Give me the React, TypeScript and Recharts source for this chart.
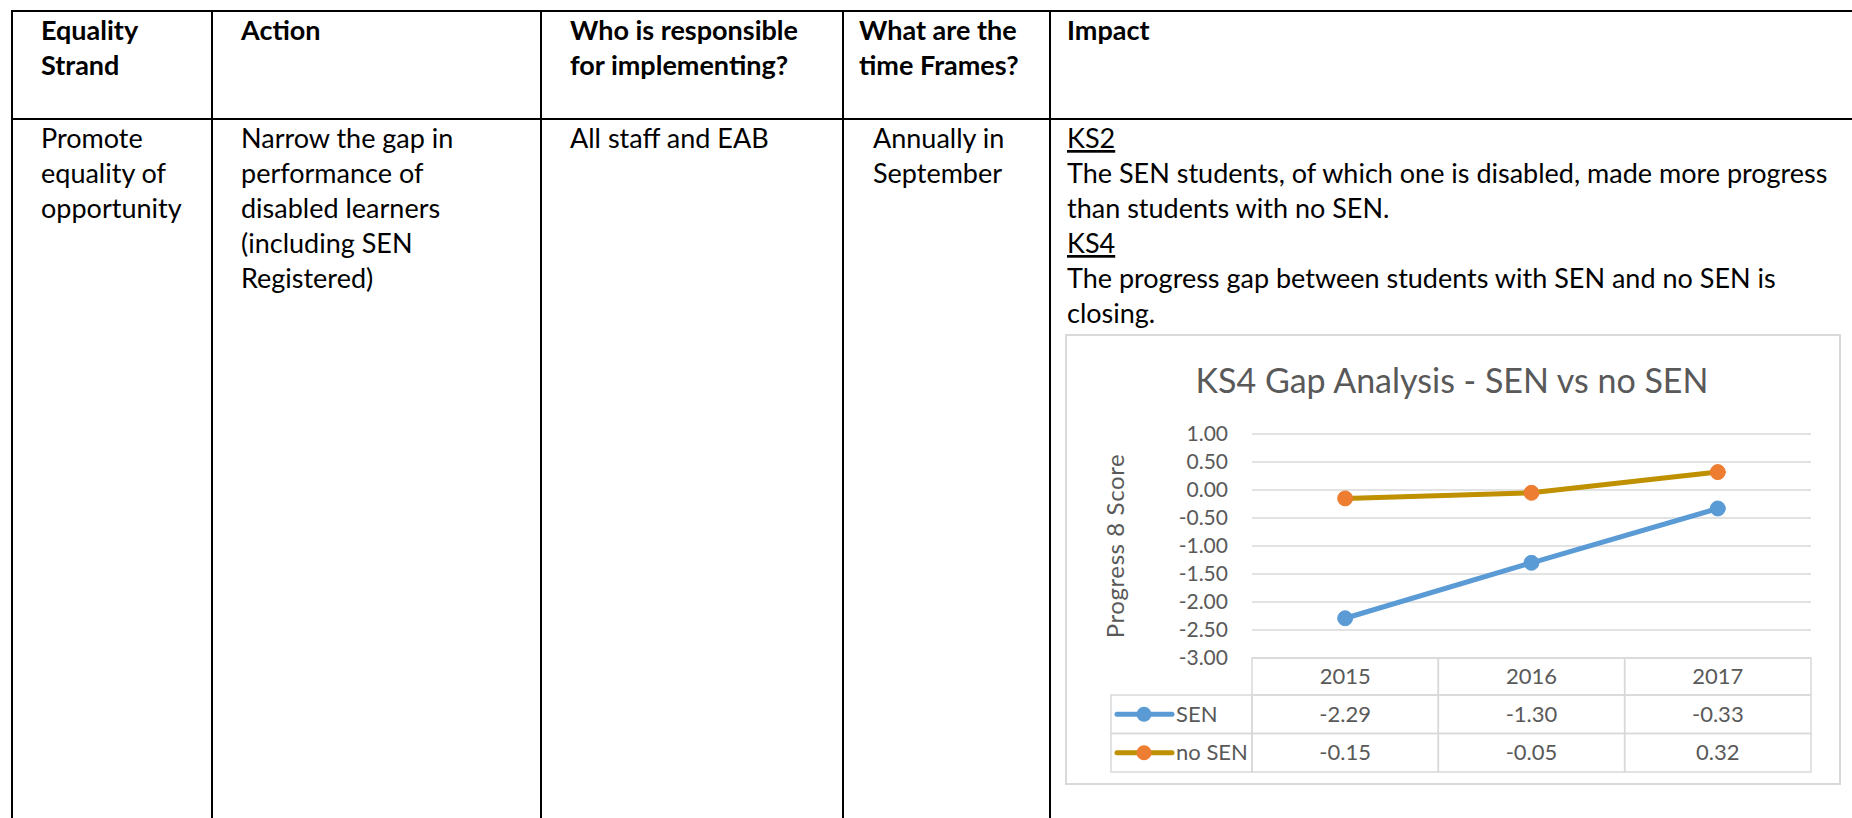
import { CartesianGrid, Line, LineChart, XAxis, YAxis } from "recharts";

const years = ["2015", "2016", "2017"];
const senScores = [-2.29, -1.3, -0.33];
const noSenScores = [-0.15, -0.05, 0.32];
const yTicks = [-3, -2.5, -2, -1.5, -1, -0.5, 0, 0.5, 1];

const headerCells = [
  { x: 41, lines: ["Equality", "Strand"] },
  { x: 241, lines: ["Action"] },
  { x: 570, lines: ["Who is responsible", "for implementing?"] },
  { x: 859, lines: ["What are the", "time Frames?"] },
  { x: 1067, lines: ["Impact"] },
];

const bodyCells = [
  { x: 41, lines: ["Promote", "equality of", "opportunity"] },
  { x: 241, lines: ["Narrow the gap in", "performance of", "disabled learners", "(including SEN", "Registered)"] },
  { x: 570, lines: ["All staff and EAB"] },
  { x: 873, lines: ["Annually in", "September"] },
];

const impactLines = [
  { text: "KS2", underline: true },
  { text: "The SEN students, of which one is disabled, made more progress" },
  { text: "than students with no SEN." },
  { text: "KS4", underline: true },
  { text: "The progress gap between students with SEN and no SEN is" },
  { text: "closing." },
];

const series = [
  { key: "sen", name: "SEN", values: senScores, stroke: "#5b9bd5", dot: "#5b9bd5" },
  { key: "noSen", name: "no SEN", values: noSenScores, stroke: "#bf9000", dot: "#ed7d31" },
];

const data = years.map((year, i) => ({
  year,
  sen: senScores[i],
  noSen: noSenScores[i],
}));

const FONT = "Lato, 'Open Sans', sans-serif";
const GREY = "#595959";
const RULE = "#d9d9d9";

const CHART_W = 774;
const CHART_H = 449;
const AXIS_W = 186;
const RIGHT = 29;
const CELL_W = (CHART_W - AXIS_W - RIGHT) / years.length;
const HEAD_H = 37;
const ROW_H = 38.5;
const LEGEND_W = 141;

function TableTick(props: any) {
  const { x, y, payload, index } = props;
  const left = x - CELL_W / 2;
  const rowsTop = y + HEAD_H;
  return (
    <g>
      <rect x={left} y={y} width={CELL_W} height={HEAD_H} fill="none" stroke={RULE} strokeWidth={1.5} />
      <text x={x} y={y + HEAD_H / 2} dy="0.35em" textAnchor="middle" fill={GREY} fontSize={22} fontFamily={FONT}>
        {payload.value}
      </text>
      {series.map((s, r) => (
        <g key={s.key}>
          <rect x={left} y={rowsTop + r * ROW_H} width={CELL_W} height={ROW_H} fill="none" stroke={RULE} strokeWidth={1.5} />
          <text x={x} y={rowsTop + r * ROW_H + ROW_H / 2} dy="0.35em" textAnchor="middle" fill={GREY} fontSize={22} fontFamily={FONT}>
            {s.values[index].toFixed(2)}
          </text>
          {index === 0 && (
            <g>
              <rect x={left - LEGEND_W} y={rowsTop + r * ROW_H} width={LEGEND_W} height={ROW_H} fill="none" stroke={RULE} strokeWidth={1.5} />
              <line
                x1={left - LEGEND_W + 6}
                x2={left - LEGEND_W + 61}
                y1={rowsTop + r * ROW_H + ROW_H / 2}
                y2={rowsTop + r * ROW_H + ROW_H / 2}
                stroke={s.stroke}
                strokeWidth={5}
                strokeLinecap="round"
              />
              <circle cx={left - LEGEND_W + 33} cy={rowsTop + r * ROW_H + ROW_H / 2} r={7.5} fill={s.dot} />
              <text x={left - LEGEND_W + 65} y={rowsTop + r * ROW_H + ROW_H / 2} dy="0.35em" fill={GREY} fontSize={22} fontFamily={FONT}>
                {s.name}
              </text>
            </g>
          )}
        </g>
      ))}
    </g>
  );
}

function AxisTitle(props: any) {
  const { viewBox } = props;
  const cx = 50;
  const cy = viewBox.y + viewBox.height / 2;
  return (
    <text
      x={cx}
      y={cy}
      transform={`rotate(-90 ${cx} ${cy})`}
      textAnchor="middle"
      dy="0.35em"
      fill={GREY}
      fontSize={24}
      letterSpacing={0.6}
      fontFamily={FONT}
    >
      Progress 8 Score
    </text>
  );
}

function GapChart() {
  return (
    <LineChart width={CHART_W} height={CHART_H} data={data} margin={{ top: 99, right: RIGHT, bottom: 0, left: 0 }}>
      <CartesianGrid stroke={RULE} strokeWidth={1.5} vertical={false} />
      <XAxis
        dataKey="year"
        scale="band"
        height={126}
        axisLine={false}
        tickLine={false}
        tickSize={0}
        tickMargin={0}
        interval={0}
        tick={<TableTick />}
      />
      <YAxis
        width={AXIS_W}
        domain={[-3, 1]}
        ticks={yTicks}
        interval={0}
        axisLine={false}
        tickLine={false}
        tickSize={0}
        tickMargin={24}
        tickFormatter={(v: number) => v.toFixed(2)}
        tick={{ fill: GREY, fontSize: 21, fontFamily: FONT }}
        label={<AxisTitle />}
      />
      {series.map((s) => (
        <Line
          key={s.key}
          type="linear"
          dataKey={s.key}
          name={s.name}
          stroke={s.stroke}
          strokeWidth={5}
          strokeLinecap="round"
          dot={{ r: 7.5, fill: s.dot, stroke: s.dot, strokeWidth: 1 }}
          isAnimationActive={false}
        />
      ))}
    </LineChart>
  );
}

export default function App() {
  const colLines = [12, 212, 541, 843, 1050];
  return (
    <div style={{ position: "fixed", left: 0, top: 0, width: 1852, height: 818, overflow: "hidden", background: "#fff" }}>
      <svg width={1852} height={818} style={{ position: "absolute", left: 0, top: 0 }}>
        {colLines.map((x) => (
          <line key={x} x1={x} x2={x} y1={10} y2={818} stroke="#000" strokeWidth={2} />
        ))}
        <line x1={11} x2={1852} y1={11} y2={11} stroke="#000" strokeWidth={2} />
        <line x1={11} x2={1852} y1={119} y2={119} stroke="#000" strokeWidth={2} />
        {headerCells.map((c) =>
          c.lines.map((t, i) => (
            <text key={c.x + t} x={c.x} y={40 + i * 35} fontFamily={FONT} fontWeight={700} fontSize={27} fill="#000">
              {t}
            </text>
          ))
        )}
        {bodyCells.map((c) =>
          c.lines.map((t, i) => (
            <text key={c.x + t} x={c.x} y={148 + i * 35} fontFamily={FONT} fontSize={27} fill="#000">
              {t}
            </text>
          ))
        )}
        {impactLines.map((l, i) => (
          <text
            key={l.text}
            x={1067}
            y={148 + i * 35}
            fontFamily={FONT}
            fontSize={27}
            fill="#000"
            style={{ textDecoration: l.underline ? "underline" : "none" }}
          >
            {l.text}
          </text>
        ))}
        <rect x={1066} y={335} width={CHART_W} height={CHART_H} fill="#fff" stroke={RULE} strokeWidth={2} />
        <text x={1452} y={393} textAnchor="middle" fontFamily={FONT} fontSize={34} fill={GREY}>
          KS4 Gap Analysis - SEN vs no SEN
        </text>
      </svg>
      <div style={{ position: "absolute", left: 1066, top: 335 }}>
        <GapChart />
      </div>
    </div>
  );
}
